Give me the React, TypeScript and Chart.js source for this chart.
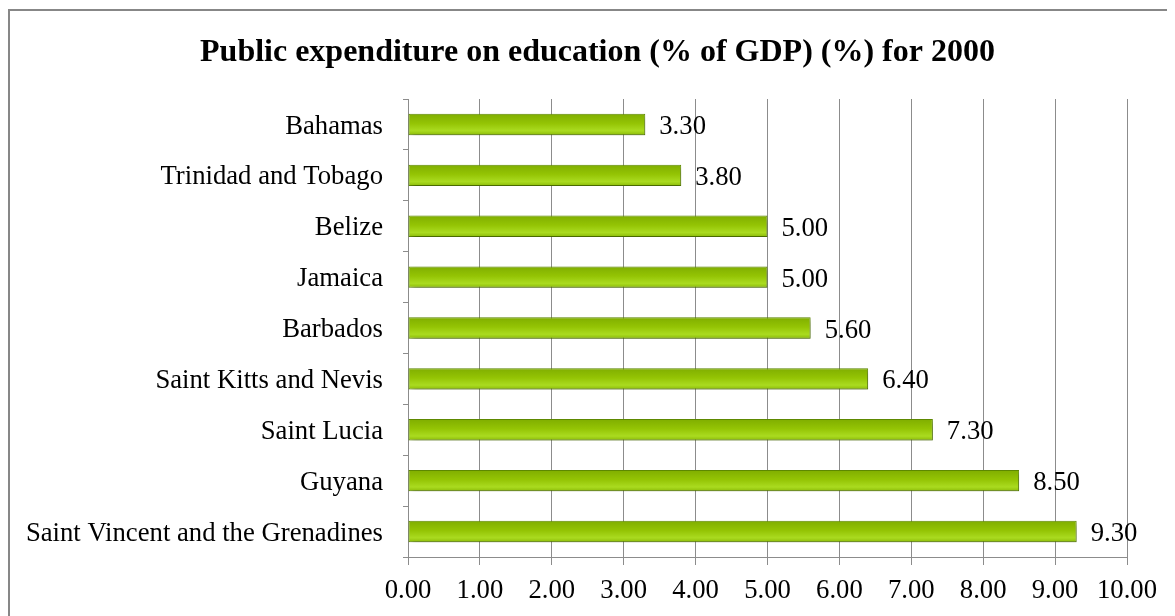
import React, { useEffect, useRef } from "react";
import { Chart, registerables } from "chart.js";

Chart.register(...registerables);

const countries = [
  "Bahamas",
  "Trinidad and Tobago",
  "Belize",
  "Jamaica",
  "Barbados",
  "Saint Kitts and Nevis",
  "Saint Lucia",
  "Guyana",
  "Saint Vincent and the Grenadines",
];
const values = [3.3, 3.8, 5.0, 5.0, 5.6, 6.4, 7.3, 8.5, 9.3];
const titleText = "Public expenditure on education (% of GDP) (%) for 2000";
const xMin = 0;
const xMax = 10;
const xStep = 1;

const FONT = "'Liberation Serif', 'Times New Roman', serif";

const valueLabels = {
  id: "valueLabels",
  afterDatasetsDraw(chart: any) {
    const ctx = chart.ctx;
    const meta = chart.getDatasetMeta(0);
    ctx.save();
    ctx.font = `26.7px ${FONT}`;
    ctx.fillStyle = "#000";
    ctx.textAlign = "left";
    ctx.textBaseline = "middle";
    meta.data.forEach((el: any, i: number) => {
      ctx.fillText(values[i].toFixed(2), el.x + 14, el.y + 2.5);
    });
    ctx.restore();
  },
};

const barShadow = {
  id: "barShadow",
  beforeDatasetDraw(chart: any) {
    const ctx = chart.ctx;
    ctx.save();
    ctx.shadowColor = "rgba(0,0,0,0.3)";
    ctx.shadowBlur = 5;
    ctx.shadowOffsetX = 2;
    ctx.shadowOffsetY = 3;
  },
  afterDatasetDraw(chart: any) {
    chart.ctx.restore();
  },
};

export default function App() {
  const ref = useRef<HTMLCanvasElement>(null);

  useEffect(() => {
    if (!ref.current) return;
    const chart = new Chart(ref.current, {
      type: "bar",
      data: {
        labels: countries,
        datasets: [
          {
            data: values,
            barPercentage: 0.42,
            categoryPercentage: 1,
            borderWidth: 1,
            borderColor: "#5f8a00",
            borderSkipped: false,
            backgroundColor: (c: any) => {
              const ch = c.chart;
              const ys = ch.scales && ch.scales.y;
              if (!ys || c.dataIndex === undefined) return "#98c80a";
              const yc = ys.getPixelForValue(c.dataIndex);
              if (!isFinite(yc)) return "#98c80a";
              const h = 21;
              const g = ch.ctx.createLinearGradient(0, yc - h / 2, 0, yc + h / 2);
              g.addColorStop(0, "#80ae00");
              g.addColorStop(0.45, "#94c404");
              g.addColorStop(0.8, "#aadb20");
              g.addColorStop(1, "#8cbc08");
              return g;
            },
          },
        ],
      },
      options: {
        indexAxis: "y",
        responsive: false,
        animation: false,
        layout: { padding: 0 },
        plugins: {
          legend: { display: false },
          tooltip: { enabled: false },
          title: {
            display: true,
            text: titleText,
            color: "#000",
            font: { family: FONT, size: 32, weight: "bold", lineHeight: 1.2 },
            padding: { top: 23, bottom: 26.6 },
          },
        },
        scales: {
          x: {
            min: xMin,
            max: xMax,
            ticks: {
              stepSize: xStep,
              color: "#000",
              font: { family: FONT, size: 26.7 },
              padding: 10,
              maxRotation: 0,
              callback: (v: any) => Number(v).toFixed(2),
            },
            grid: { color: "#8c8c8c", lineWidth: 1, tickLength: 8, drawTicks: true },
            border: { display: true, color: "#8c8c8c" },
            afterFit: (s: any) => {
              s.height = 54;
            },
          },
          y: {
            ticks: {
              color: "#000",
              font: { family: FONT, size: 26.7, lineHeight: 0.16 },
              padding: 20,
              callback: (_v: any, i: number) => ["", countries[i]],
            },
            grid: {
              offset: true,
              drawOnChartArea: false,
              drawTicks: true,
              tickLength: 5,
              color: "#8c8c8c",
            },
            border: { display: true, color: "#8c8c8c" },
            afterFit: (s: any) => {
              s.width = 398;
            },
          },
          yRight: {
            type: "linear",
            position: "right",
            display: true,
            grid: { display: false, drawTicks: false },
            border: { display: false },
            ticks: { display: false },
            afterFit: (s: any) => {
              s.width = 58;
            },
          },
        },
      },
      plugins: [barShadow, valueLabels],
    } as any);
    return () => chart.destroy();
  }, []);

  return (
    <div style={{ width: 1167, height: 608, overflow: "hidden", position: "relative" }}>
      <div
        style={{
          position: "absolute",
          left: 0,
          top: 1,
          width: 1185,
          height: 640,
          border: "2px solid #878787",
          boxSizing: "border-box",
          background: "#fff",
        }}
      >
        <canvas ref={ref} width={1175} height={600} style={{ display: "block" }} />
      </div>
    </div>
  );
}
